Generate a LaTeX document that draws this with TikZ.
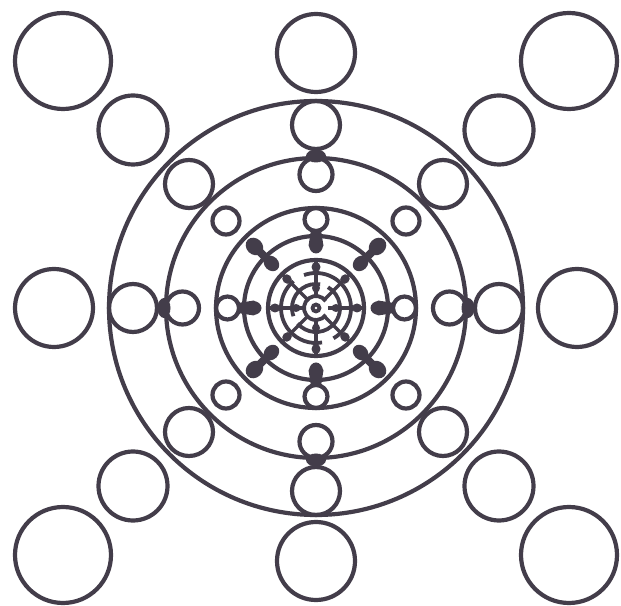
\documentclass[tikz,border=0pt]{standalone}
\usepackage{tikz}
\definecolor{ink}{HTML}{433D4A}
\tikzset{
  ring/.style={draw=ink, line width=4.2pt},
  thinring/.style={draw=ink, line width=3.8pt},
  spoke/.style={draw=ink, line width=3.4pt},
  blob/.style={fill=ink}
}
\begin{document}
\begin{tikzpicture}[x=1pt,y=1pt]
\useasboundingbox (0,0) rectangle (621,605);
\begin{scope}[shift={(316,297)}]
  % main rings
  \foreach \r in {207,150,100,72,48}
    \draw[ring] (0,0) circle[radius=\r];
  % inner broken rings
  \draw[thinring] (130:35) arc[start angle=130, end angle=280, radius=35];
  \draw[thinring] (300:35) arc[start angle=300, end angle=470, radius=35];
  \draw[thinring] (80:24) arc[start angle=80, end angle=200, radius=24];
  \draw[thinring] (220:24) arc[start angle=220, end angle=420, radius=24];
  \draw[thinring] (35:12) arc[start angle=35, end angle=325, radius=12];
  % centre
  \fill[blob] (0,0) circle[radius=5.5];
  \fill[white] (0,0) circle[radius=1.3];
  % axis spokes
  \foreach \a in {0,90,180,270} {
    \begin{scope}[rotate=\a]
      \draw[ring] (183,0) circle[radius=24];
      \draw[ring] (133.5,0) circle[radius=16.5];
      \draw[ring] (88.5,0) circle[radius=11.5];
      \fill[blob] (152,0) ellipse[x radius=6.5, y radius=10];
      \fill[blob] (78,-5) -- (78,5) -- (62,7.5) -- (55,0) -- (62,-7.5) -- cycle;
      \fill[blob] (63,0) ellipse[x radius=8.5, y radius=7];
      \draw[spoke] (12,0) -- (48,0);
      \fill[blob] (41,0) ellipse[x radius=5, y radius=4.5];
      \fill[blob] (20,0) ellipse[x radius=4.5, y radius=4];
    \end{scope}
  }
  % axis big circles
  \draw[ring] (261,0) circle[radius=39];
  \draw[ring] (-262,0) circle[radius=39];
  \draw[ring] (0,255) circle[radius=39];
  \draw[ring] (0,-253) circle[radius=39];
  % diagonal circles
  \foreach \sx in {-1,1} {
    \foreach \sy in {-1,1} {
      \draw[ring] (\sx*253,\sy*247) circle[radius=48];
      \draw[ring] (\sx*183,\sy*178) circle[radius=34.5];
      \draw[ring] (\sx*127,\sy*124) circle[radius=24];
      \draw[ring] (\sx*90,\sy*87) circle[radius=13.5];
    }
  }
  % diagonal inner blobs
  \foreach \a in {45,135,225,315} {
    \begin{scope}[rotate=\a]
      \draw[spoke] (12,0) -- (48,0);
      \draw[ink, line width=8pt] (62,0) -- (88,0);
      \fill[blob] (63,0) ellipse[x radius=8.5, y radius=7];
      \fill[blob] (87,0) ellipse[x radius=9.5, y radius=8];
      \fill[blob] (41,0) ellipse[x radius=5, y radius=4.5];
    \end{scope}
  }
\end{scope}
\end{tikzpicture}
\end{document}
